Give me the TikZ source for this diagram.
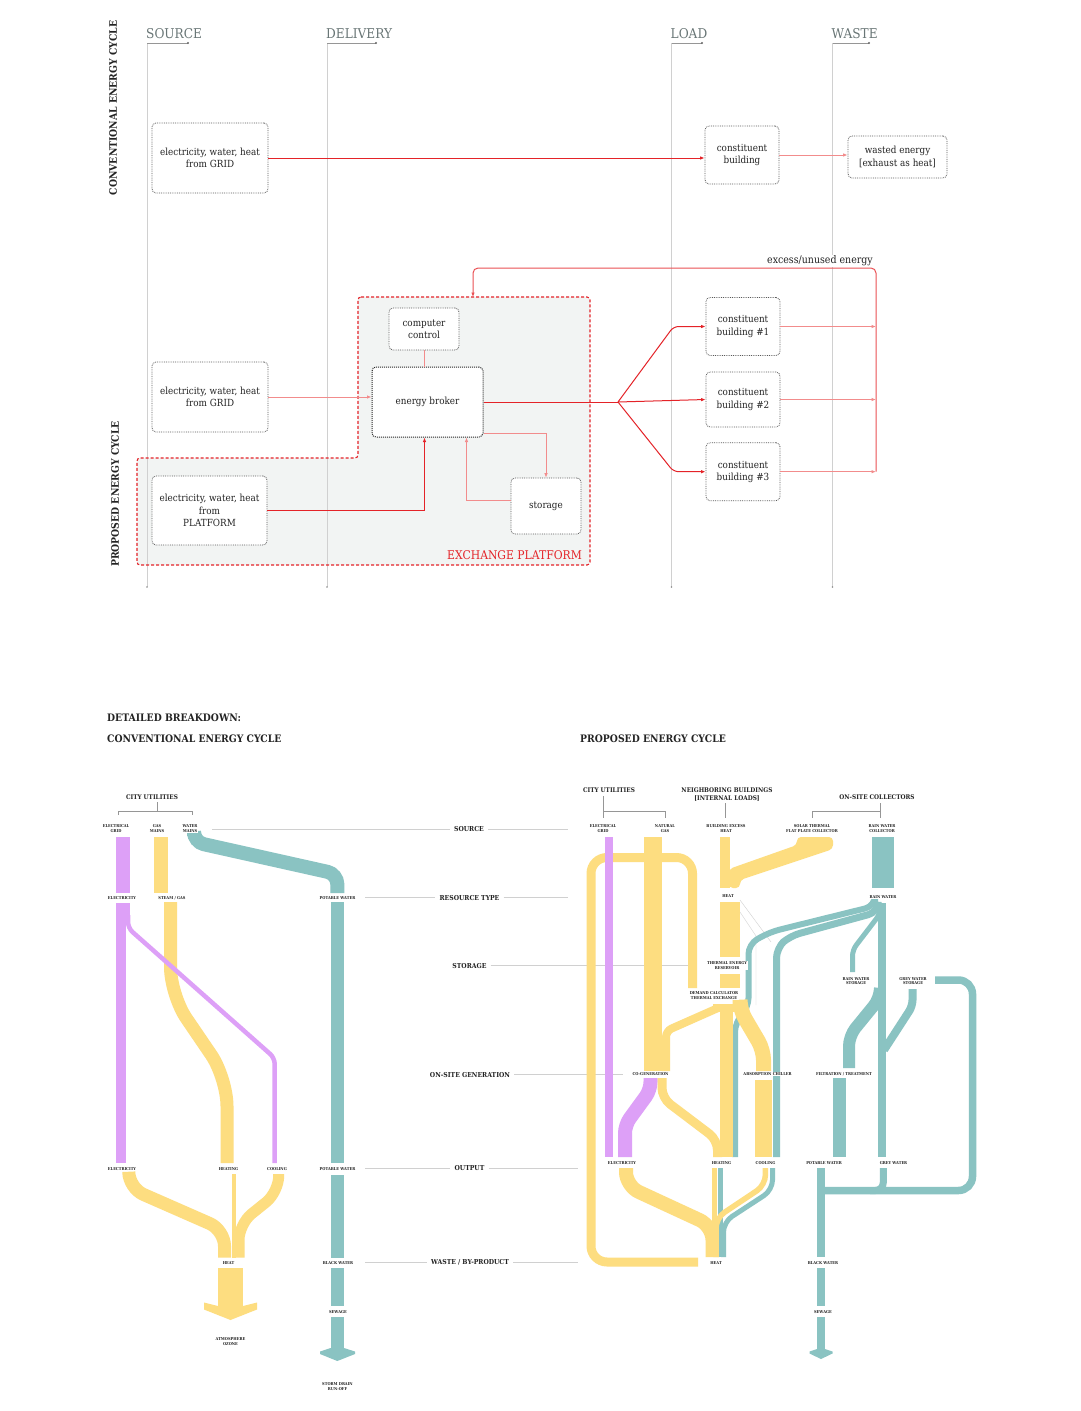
\documentclass[tikz,border=0pt]{standalone}
\usepackage{fontspec}
\setmainfont{DejaVu Serif}[FakeStretch=0.9]
\usetikzlibrary{arrows.meta}
\definecolor{redc}{RGB}{228,35,40}
\definecolor{midred}{RGB}{234,80,84}
\definecolor{lredc}{RGB}{242,140,140}
\definecolor{pfill}{RGB}{242,244,243}
\definecolor{purc}{RGB}{221,160,247}
\definecolor{yelc}{RGB}{253,221,128}
\definecolor{tealc}{RGB}{138,195,194}
\definecolor{hdrc}{RGB}{105,118,118}
\definecolor{guide}{RGB}{208,208,208}
\definecolor{brkc}{RGB}{150,150,150}
\definecolor{txtc}{RGB}{35,35,35}
\begin{document}
\begin{tikzpicture}[x=1pt,y=-1pt,
  box/.style={draw=black!65, densely dotted, line width=0.8, rounded corners=4, align=center,
    font=\fontsize{9.8}{12.2}\selectfont, text=txtc, fill=white, inner sep=2},
  hdr/.style={font=\fontsize{13.5}{14}\selectfont, text=hdrc, inner sep=0},
  gl/.style={draw=guide, line width=0.6},
  brk/.style={draw=brkc, line width=0.6},
  arr/.style={-{Latex[length=4.5pt,width=3.5pt]}},
  rline/.style={draw=redc, line width=1},
  lline/.style={draw=lredc, line width=0.9},
  bigt/.style={font=\fontsize{10.3}{12}\selectfont\bfseries, text=txtc, inner sep=0},
  rowl/.style={font=\fontsize{6.8}{7.5}\selectfont\bfseries, text=txtc, inner sep=4},
  grp/.style={font=\fontsize{6.4}{7.6}\selectfont\bfseries, text=txtc, align=center, inner sep=1},
  tl/.style={font=\fontsize{4}{4.6}\selectfont\bfseries, align=center, text=txtc, inner sep=0.6, fill=white},
  rib/.style={line cap=butt}
]
\useasboundingbox (0,0) rectangle (1080,1411);
\fill[white] (0,0) rectangle (1080,1411);

% ================= TOP: diagram =================
\path[fill=pfill, rounded corners=3] (358,297) -- (590,297) -- (590,565) -- (137,565) -- (137,458) -- (358,458) -- cycle;

\foreach \x/\d/\t/\n in {147/188/SOURCE/hA, 327/376/DELIVERY/hB, 671.5/702/LOAD/hC, 832.5/869/WASTE/hD}{
  \node[hdr, anchor=base west] (\n) at (\x-1,38.5) {\t};
  \draw[gl] (\x,43) -- (\x,587);
  \draw[brk] (\x,43) -- (\d,43);
  \fill[black!60] (\d,43) circle (1.1);
  \fill[black!45] (\x,587) circle (0.9);
}

\draw[redc, dash pattern=on 3pt off 2pt, line width=1.1, rounded corners=3] (358,297) -- (590,297) -- (590,565) -- (137,565) -- (137,458) -- (358,458) -- cycle;
\node[font=\fontsize{12}{13}\selectfont, text=redc, inner sep=0] (xp) at (514.5,555) {EXCHANGE PLATFORM};

\node[bigt, rotate=90] (sc1) at (113,108) {CONVENTIONAL ENERGY CYCLE};
\node[bigt, rotate=90] (sc2) at (115,494) {PROPOSED ENERGY CYCLE};

% conventional
\node[box, minimum width=116, minimum height=70] (g1) at (210,158) {electricity, water, heat\\from GRID};
\node[box, minimum width=74, minimum height=58] (cb) at (742,155) {constituent\\building};
\node[box, minimum width=99, minimum height=42] (we) at (897.5,157) {wasted energy\\{[}exhaust as heat{]}};
\draw[rline, arr] (g1.east) -- (g1.east -| cb.west);
\draw[lline, arr] (cb.east) -- (cb.east -| we.west);

% proposed
\node[box, minimum width=70, minimum height=42] (cc) at (424,329) {computer\\control};
\node[box, draw=black!85, line width=1, minimum width=111, minimum height=70] (eb) at (427.5,402) {energy broker};
\node[box, minimum width=116, minimum height=70] (g2) at (210,397) {electricity, water, heat\\from GRID};
\node[box, minimum width=115, minimum height=69] (pf) at (209.5,510.5) {electricity, water, heat\\from\\PLATFORM};
\node[box, minimum width=70, minimum height=56] (st) at (546,506) {storage};
\node[box, minimum width=74, minimum height=58] (b1) at (743,326.5) {constituent\\building \#1};
\node[box, minimum width=74, minimum height=55] (b2) at (743,399.5) {constituent\\building \#2};
\node[box, minimum width=74, minimum height=58] (b3) at (743,471.7) {constituent\\building \#3};
\coordinate (sp) at (618,402);
\coordinate (xr) at (876,268);
\coordinate (pt) at (473,297);

\draw[lline] (cc.south) -- (cc.south |- eb.north);
\draw[lline, arr] (g2.east) -- (g2.east -| eb.west);
\draw[rline, line width=1.2, arr] (pf.east) -| ([xshift=-3]eb.south);
\draw[rline] (eb.east) -- (sp);
\draw[rline, arr, rounded corners=5] (sp) -- ([xshift=-32]b1.west) -- (b1.west);
\draw[rline, arr] (sp) -- (b2.west);
\draw[rline, arr, rounded corners=5] (sp) -- ([xshift=-32]b3.west) -- (b3.west);
\draw[lline, arr] (b1.east) -- (b1.east -| xr);
\draw[lline, arr] (b2.east) -- (b2.east -| xr);
\draw[lline, arr] (b3.east) -- (b3.east -| xr);
\draw[midred, line width=1, arr, rounded corners=5] (b3.east -| xr) -- (xr) -- (pt |- xr) -- (pt);
\node[anchor=base east, fill=white, inner sep=1, font=\fontsize{10.5}{12}\selectfont, text=txtc] (ex) at (874,263.5) {excess/unused energy};
\draw[lline, line width=0.7, arr] ([yshift=4]eb.south east) -| (st.north);
\draw[lline, line width=0.7, arr] ([yshift=6]st.west) -| ([xshift=39]eb.south);

% ================= BOTTOM: detailed breakdown =================
\node[bigt, anchor=base west] (d1) at (107,721) {DETAILED BREAKDOWN:};
\node[bigt, anchor=base west] (d2) at (107,742) {CONVENTIONAL ENERGY CYCLE};
\node[bigt, anchor=base west] (d3) at (580,742) {PROPOSED ENERGY CYCLE};

\node[rowl] (r1) at (469,829) {SOURCE};
\node[rowl] (r2) at (469.5,897.7) {RESOURCE TYPE};
\node[rowl] (r3) at (469.5,965.7) {STORAGE};
\node[rowl] (r4) at (470,1074.7) {ON-SITE GENERATION};
\node[rowl] (r5) at (469.5,1168.3) {OUTPUT};
\node[rowl] (r6) at (470,1262.7) {WASTE / BY-PRODUCT};
\draw[gl] (212,829) -- (r1.west); \draw[gl] (r1.east) -- (568,829);
\draw[gl] (365,897.7) -- (r2.west); \draw[gl] (r2.east) -- (568,897.7);
\draw[gl] (r3.east) -- (690,965.7);
\draw[gl] (r4.east) -- (623,1074.7);
\draw[gl] (365,1168.3) -- (r5.west); \draw[gl] (r5.east) -- (578,1168.3);
\draw[gl] (365,1262.7) -- (r6.west); \draw[gl] (r6.east) -- (578,1262.7);

% ---------- LEFT sankey ----------
\node[grp] (cu1) at (152,797) {CITY UTILITIES};
\draw[brk] (157,802) -- (157,811); \draw[brk] (118,815) -- (118,811) -- (192,811) -- (192,815);

\fill[purc] (116,837) rectangle (130,893);
\fill[purc] (116,903) rectangle (130,921);
\fill[purc] (116,921) rectangle (126,1163);
\fill[yelc] (154,837) rectangle (168,893);
\draw[rib, yelc, line width=13, rounded corners=28] (170.5,902) -- (170.5,995) -- (227,1078) -- (227,1163);
\draw[rib, purc, line width=4.5, rounded corners=6] (128,915) -- (128,928) -- (274.7,1058) -- (274.7,1163);
\draw[rib, tealc, line width=14, rounded corners=10] (194,836) -- (194,842) -- (337.3,874) -- (337.3,893);
\fill[tealc] (330.7,902) rectangle (344,1163);
\fill[tealc] (330.7,1175) rectangle (344,1258);
\fill[tealc] (330.7,1268) rectangle (344,1306);
\fill[tealc] (330.7,1317) rectangle (344,1350);
\fill[tealc] (330.7,1348) -- (344,1348) -- (355,1351.5) -- (355,1354) -- (337.3,1361) -- (320,1354) -- (320,1351.5) -- cycle;
\draw[rib, yelc, line width=13, rounded corners=16] (128.8,1174) -- (128.8,1188) -- (224.5,1230) -- (224.5,1257.5);
\draw[rib, yelc, line width=3.5] (234,1174) -- (234,1257.5);
\draw[rib, yelc, line width=11, rounded corners=16] (278.7,1174) -- (278.7,1192) -- (239,1224) -- (239,1257.5);
\fill[yelc] (218,1268) rectangle (243,1311);
\fill[yelc] (218,1306) -- (243,1306) -- (257,1302.5) -- (257,1309.5) -- (230.5,1320) -- (204,1309.5) -- (204,1302.5) -- cycle;

\node[tl] (la1) at (116,828.5) {ELECTRICAL\\GRID};
\node[tl] (la2) at (157,828.5) {GAS\\MAINS};
\node[tl] (la3) at (190,828.5) {WATER\\MAINS};
\node[tl] (la4) at (122,898) {ELECTRICITY};
\node[tl] (la5) at (172,898) {STEAM / GAS};
\node[tl] (la6) at (337.5,898) {POTABLE WATER};
\node[tl] (la7) at (122,1169) {ELECTRICITY};
\node[tl] (la8) at (228.5,1169) {HEATING};
\node[tl] (la9) at (277,1169) {COOLING};
\node[tl] (la10) at (337.5,1169) {POTABLE WATER};
\node[tl] (la11) at (228.5,1263) {HEAT};
\node[tl] (la12) at (338,1263) {BLACK WATER};
\node[tl] (la13) at (338,1312) {SEWAGE};
\node[tl] (la14) at (230.5,1341.5) {ATMOSPHERE\\OZONE};
\node[tl] (la15) at (337.5,1386.5) {STORM DRAIN\\RUN-OFF};

% ---------- RIGHT sankey ----------
\node[grp] (cu2) at (609,790) {CITY UTILITIES};
\draw[brk] (603,796) -- (603,818); \draw[brk] (603,811) -- (665,811) -- (665,818);
\node[grp] (nb) at (727,794.5) {NEIGHBORING BUILDINGS\\{[}INTERNAL LOADS{]}};
\draw[brk] (725,803) -- (725,818);
\node[grp] (oc) at (877,797) {ON-SITE COLLECTORS};
\draw[brk] (880,803) -- (880,818); \draw[brk] (880,811) -- (812,811) -- (812,818);

\draw[gl, line width=0.4] (740,900) -- (771,942);
\draw[gl, line width=0.4] (740,912) -- (756,936) -- (756,1005);

\draw[rib, yelc, line width=9, rounded corners=16] (692.5,988) -- (692.5,857.5) -- (591,857.5) -- (591,1262) -- (698,1262);
\fill[purc] (605,837) rectangle (613.3,1157);
\fill[yelc] (644,837) rectangle (662.3,1071);
\fill[yelc] (720,837) rectangle (729.5,888);
\fill[yelc, rounded corners=4] (797,837) -- (833,837) -- (833,849) -- (740,880) -- (740,888) -- (729,888) -- (729,869) -- (797,845) -- cycle;
\fill[yelc] (720,902) rectangle (740,957);
\fill[yelc] (720,974) rectangle (740,988);

\fill[tealc] (872,837) rectangle (894,888);
\draw[rib, tealc, line width=6, rounded corners=10] (875,903) -- (875,906) -- (770,932) -- (748.5,944) -- (748.5,1008) -- (735,1022) -- (735,1157);
\draw[rib, tealc, line width=7, rounded corners=10] (878,905) -- (878,912) -- (790,936) -- (776.5,948) -- (776.5,1157);
\draw[rib, tealc, line width=5, rounded corners=6] (880,905) -- (880,914) -- (852.5,950) -- (852.5,972);
\fill[tealc] (878,903) rectangle (886,1157);
\draw[rib, tealc, line width=12, rounded corners=10] (880,988) -- (880,998) -- (849,1036) -- (849,1068);
\fill[tealc] (833,1078) rectangle (845.7,1157);
\draw[rib, tealc, line width=8, rounded corners=6] (912.5,989) -- (912.5,1006) -- (884,1050);
\draw[rib, tealc, line width=7.5, rounded corners=14] (935,980) -- (972.5,980) -- (972.5,1190.5) -- (822,1190.5);
\draw[rib, tealc, line width=7, rounded corners=8] (883.3,1168) -- (883.3,1190.5) -- (870,1190.5);
\fill[tealc] (817,1168) rectangle (825,1257);
\fill[tealc] (817,1268) rectangle (825,1306);
\fill[tealc] (817,1317) rectangle (825,1351);
\fill[tealc] (817,1349) -- (825,1349) -- (832.5,1351.5) -- (832.5,1353.5) -- (821,1359) -- (809.5,1353.5) -- (809.5,1351.5) -- cycle;

\fill[yelc] (713,1004) rectangle (747,1012);
\fill[yelc] (720,1004) rectangle (733,1157);
\draw[rib, yelc, line width=8, rounded corners=6] (718,1008) -- (666,1031) -- (666,1071);
\draw[rib, yelc, line width=15, rounded corners=10] (740,1004) -- (740,1010) -- (763.5,1050) -- (763.5,1071);
\fill[yelc] (755,1080) rectangle (772,1157);

\draw[rib, purc, line width=14, rounded corners=8] (650.5,1078) -- (650.5,1090) -- (625,1125) -- (625,1157);
\draw[rib, yelc, line width=9, rounded corners=10] (662,1078) -- (662,1098) -- (717.5,1140) -- (717.5,1157);

\draw[rib, yelc, line width=14, rounded corners=14] (626,1168) -- (626,1186) -- (712.5,1226) -- (712.5,1257);
\draw[rib, yelc, line width=5] (714,1168) -- (714,1257);
\draw[rib, tealc, line width=5] (720.5,1168) -- (720.5,1257);
\draw[rib, yelc, line width=5.5, rounded corners=10] (765.4,1168) -- (765.4,1185) -- (716,1218) -- (716,1257);
\draw[rib, tealc, line width=5, rounded corners=10] (772.5,1168) -- (772.5,1190) -- (723.5,1222) -- (723.5,1257);

\node[tl] (ra1) at (603,828.5) {ELECTRICAL\\GRID};
\node[tl] (ra2) at (665,828.5) {NATURAL\\GAS};
\node[tl] (ra3) at (726,828.5) {BUILDING EXCESS\\HEAT};
\node[tl] (ra4) at (812,828.5) {SOLAR THERMAL\\FLAT PLATE COLLECTOR};
\node[tl] (ra5) at (882,828.5) {RAIN WATER\\COLLECTOR};
\node[tl] (ra6) at (728,896.5) {HEAT};
\node[tl] (ra7) at (883,897) {RAIN WATER};
\node[tl] (ra8) at (727,965.5) {THERMAL ENERGY\\RESERVOIR};
\node[tl] (ra9) at (856,981) {RAIN WATER\\STORAGE};
\node[tl] (ra10) at (913,981) {GREY WATER\\STORAGE};
\node[tl] (ra11) at (714,995.5) {DEMAND CALCULATOR\\THERMAL EXCHANGE};
\node[tl] (ra12) at (650.5,1073.7) {CO-GENERATION};
\node[tl] (ra13) at (767.5,1073.7) {ABSORPTION CHILLER};
\node[tl] (ra14) at (844,1073.7) {FILTRATION / TREATMENT};
\node[tl] (ra15) at (622,1163.3) {ELECTRICITY};
\node[tl] (ra16) at (721.5,1163.3) {HEATING};
\node[tl] (ra17) at (765.5,1163.3) {COOLING};
\node[tl] (ra18) at (824,1163.3) {POTABLE WATER};
\node[tl] (ra19) at (893.5,1163.3) {GREY WATER};
\node[tl] (ra20) at (716,1263) {HEAT};
\node[tl] (ra21) at (823,1263) {BLACK WATER};
\node[tl] (ra22) at (823,1312) {SEWAGE};
\end{tikzpicture}
\end{document}
